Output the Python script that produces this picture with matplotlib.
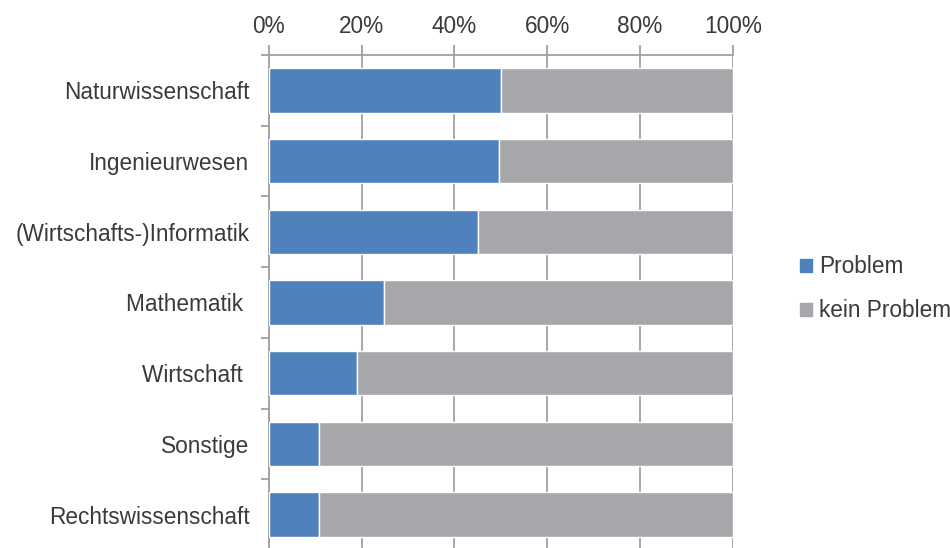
import numpy as np
import matplotlib.pyplot as plt
from matplotlib.patches import Patch

# Share of respondents per subject area (percent)
faecher = ["Naturwissenschaft", "Ingenieurwesen", "(Wirtschafts-)Informatik",
           "Mathematik ", "Wirtschaft ", "Sonstige", "Rechtswissenschaft"]
problem = np.array([50.0, 49.5, 45.0, 24.8, 18.9, 10.9, 10.9])
kein_problem = 100 - problem

blau = "#4F81BD"
grau = "#A6A7AA"
achse = "#A0A0A0"
text = "#3a3a3a"

plt.rcParams["font.family"] = ["Liberation Sans", "DejaVu Sans"]

fig = plt.figure(figsize=(9.5, 5.48), dpi=100)
ax = fig.add_axes([0.283, -0.0036, 0.4884, 0.9032])

y = np.arange(len(faecher))
ax.barh(y, problem, height=0.63, color=blau, edgecolor="white", linewidth=1, zorder=3)
ax.barh(y, kein_problem, left=problem, height=0.63, color=grau, edgecolor="white",
        linewidth=1, zorder=3)

ax.set_xlim(0, 100)
ax.set_ylim(len(faecher) - 0.5, -0.5)

# x axis on top
ax.xaxis.tick_top()
ax.set_xticks(np.arange(0, 101, 20))
ax.set_xticklabels([f"{v}%" for v in range(0, 101, 20)])
ax.tick_params(axis="x", length=7, width=1.3, color=achse, pad=5,
               labelsize=16.3, labelcolor=text)
ax.grid(axis="x", color=achse, linewidth=1.3, zorder=0)

# category labels at centres, tick marks between categories
ax.set_yticks(y)
ax.set_yticklabels(faecher)
ax.set_yticks(np.arange(-0.5, len(faecher), 1), minor=True)
ax.tick_params(axis="y", which="major", length=0, pad=14, labelsize=16.3, labelcolor=text)
ax.tick_params(axis="y", which="minor", length=6, width=1.3, color=achse)

for s in ["right", "bottom"]:
    ax.spines[s].set_visible(False)
for s in ["left", "top"]:
    ax.spines[s].set_color(achse)
    ax.spines[s].set_linewidth(1.3)

handles = [Patch(color=blau), Patch(color=grau)]
fig.legend(handles, ["Problem", "kein Problem"], loc="center left",
           bbox_to_anchor=(0.8425, 0.473), frameon=False, fontsize=16.3,
           handlelength=0.52, handleheight=0.52, handletextpad=0.3,
           labelspacing=0.92, borderpad=0, borderaxespad=0, labelcolor=text)

fig.savefig("out.png", dpi=100)
